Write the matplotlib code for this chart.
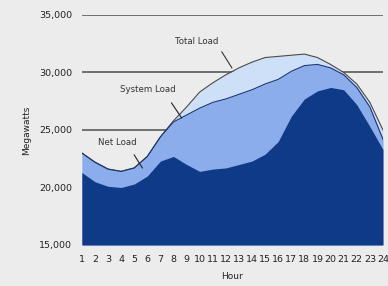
import matplotlib
matplotlib.use("Agg")
import matplotlib.pyplot as plt
import numpy as np

hours = list(range(1, 25))
net_load = [21300, 20500, 20100, 20000, 20300, 21000, 22300, 22700, 22000, 21400, 21600, 21700,
            22000, 22300, 22900, 24000, 26200, 27700, 28400, 28700, 28500, 27200, 25300, 23300]
system_load = [23000, 22200, 21600, 21400, 21700, 22700, 24400, 25700, 26300, 26900, 27400, 27700,
               28100, 28500, 29000, 29400, 30100, 30600, 30700, 30400, 29800, 28700, 27000, 24200]
total_load = [23000, 22200, 21600, 21400, 21700, 22700, 24400, 25800, 27000, 28300, 29100, 29800,
              30400, 30900, 31300, 31400, 31500, 31600, 31300, 30700, 30000, 29000, 27400, 25000]
y_ticks = [15000, 20000, 25000, 30000, 35000]
y_tick_labels = ["15,000", "20,000", "25,000", "30,000", "35,000"]
grid_levels = [25000, 30000, 35000]
labels = ["Total Load", "System Load", "Net Load"]

fig = plt.figure(figsize=(3.88, 2.86), dpi=100)
fig.patch.set_facecolor("#ececec")
ax = fig.add_axes([0.211, 0.1434, 0.776, 0.8042])
ax.set_facecolor("none")

for g in grid_levels:
    ax.axhline(g, color="#5a5a5a", lw=1.2, zorder=0)

ax.fill_between(hours, 15000, total_load, color="#cde0f8", lw=0, zorder=1)
ax.fill_between(hours, 15000, system_load, color="#8cadec", lw=0, zorder=2)
ax.fill_between(hours, 15000, net_load, color="#0f3a88", lw=0, zorder=3)
ax.plot(hours, total_load, color="#4a4a4a", lw=0.8, zorder=4)
ax.plot(hours, system_load, color="#1a3570", lw=0.8, zorder=4)

ax.set_xlim(1, 24)
ax.set_ylim(15000, 35000)
ax.set_yticks(y_ticks)
ax.set_yticklabels(y_tick_labels)
ax.set_xticks(hours)
ax.set_xticklabels([str(h) for h in hours])
fam = ["Liberation Sans Narrow", "DejaVu Sans"]
for lab in ax.get_xticklabels():
    lab.set_fontfamily(fam)
    lab.set_fontsize(6.8)
    lab.set_color("#222222")
for lab in ax.get_yticklabels():
    lab.set_fontfamily(fam)
    lab.set_fontsize(6.8)
    lab.set_color("#222222")
ax.tick_params(axis="both", length=0)
ax.tick_params(axis="y", pad=7)
ax.tick_params(axis="x", pad=7)
for s in ax.spines.values():
    s.set_visible(False)

ax.set_ylabel("Megawatts", fontsize=6.5, family=fam, color="#222222", labelpad=6)
ax.set_xlabel("Hour", fontsize=6.5, family=fam, color="#222222", labelpad=6)

txt_kw = dict(fontsize=6.2, family=fam, color="#333333", ha="center", va="center", zorder=6)
ax.text(9.77, 32660, labels[0], **txt_kw)
ax.plot([11.69, 12.46], [31790, 30400], color="#333333", lw=0.8, zorder=6)
ax.text(6.0, 28480, labels[1], **txt_kw)
ax.plot([7.85, 8.62], [27350, 26050], color="#222222", lw=0.8, zorder=6)
ax.text(3.69, 23870, labels[2], **txt_kw)
ax.plot([5.0, 5.62], [22830, 21700], color="#222222", lw=0.8, zorder=6)

fig.savefig("out.png", dpi=100, facecolor=fig.get_facecolor())
